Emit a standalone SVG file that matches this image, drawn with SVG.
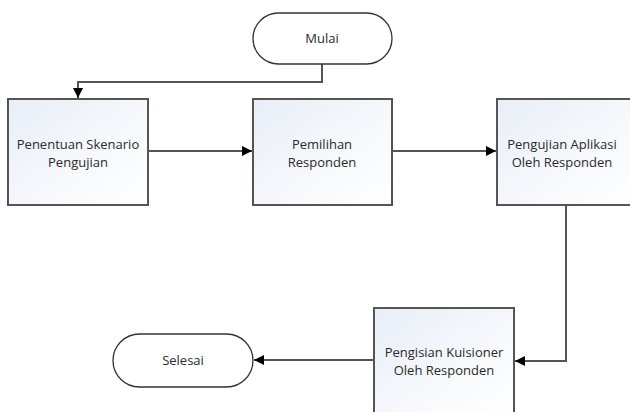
<svg xmlns="http://www.w3.org/2000/svg" width="630" height="412" viewBox="0 0 630 412">
<defs>
<linearGradient id="g" x1="0" y1="0" x2="1" y2="1">
<stop offset="0" stop-color="#e8edf7"/>
<stop offset="0.6" stop-color="#f7f9fc"/>
<stop offset="1" stop-color="#ffffff"/>
</linearGradient>
<marker id="arr" viewBox="0 0 10 10" refX="10" refY="5" markerWidth="10" markerHeight="10" markerUnits="userSpaceOnUse" orient="auto">
<path d="M0,0 L10,5 L0,10 Z" fill="#000"/>
</marker>
<style>
.box{fill:url(#g);stroke:#555;stroke-width:2}
.term{fill:#fff;stroke:#333;stroke-width:1.3}
.t{font-family:"Open Sans","Liberation Sans",sans-serif;font-size:13px;fill:#2a2a2a;text-anchor:middle}
.c{fill:none;stroke:#555;stroke-width:2;marker-end:url(#arr)}
</style>
</defs>
<rect width="630" height="412" fill="#fff"/>
<g id="connectors">
<path class="c" d="M322,64 V82 H78 V98"/>
<path class="c" d="M148,151 H252"/>
<path class="c" d="M392,151 H496"/>
<path class="c" d="M566,205 V361 H515"/>
<path class="c" d="M374,360 H254"/>
</g>
<g id="mulai">
<rect class="term" x="253" y="13" width="139" height="51" rx="25.5"/>
<text class="t" x="322" y="43">Mulai</text>
</g>
<g id="penentuan">
<rect class="box" x="8" y="99" width="140" height="106"/>
<text class="t" x="78" y="149">Penentuan Skenario</text>
<text class="t" x="78" y="167">Pengujian</text>
</g>
<g id="pemilihan">
<rect class="box" x="253" y="99" width="139" height="106"/>
<text class="t" x="322" y="149">Pemilihan</text>
<text class="t" x="322" y="167">Responden</text>
</g>
<g id="pengujian">
<rect class="box" x="497" y="99" width="140" height="106"/>
<text class="t" x="562" y="149">Pengujian Aplikasi</text>
<text class="t" x="562" y="167">Oleh Responden</text>
</g>
<g id="pengisian">
<rect class="box" x="374" y="308" width="140" height="106"/>
<text class="t" x="444" y="357">Pengisian Kuisioner</text>
<text class="t" x="444" y="375">Oleh Responden</text>
</g>
<g id="selesai">
<rect class="term" x="113" y="334" width="140" height="53" rx="26.5"/>
<text class="t" x="183" y="365">Selesai</text>
</g>
</svg>
